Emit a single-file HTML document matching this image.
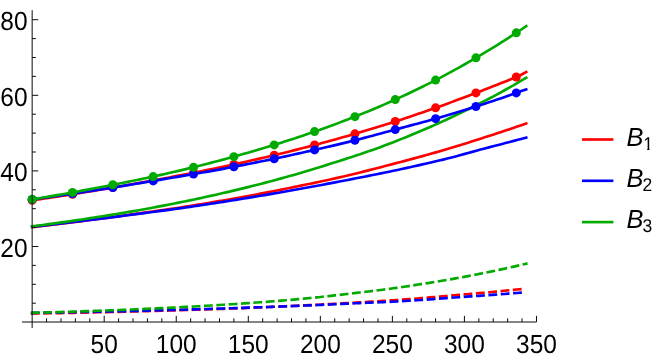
<!DOCTYPE html>
<html><head><meta charset="utf-8"><title>Plot</title>
<style>
html,body{margin:0;padding:0;background:#ffffff;}
body{width:664px;height:361px;overflow:hidden;font-family:"Liberation Sans",sans-serif;}
svg{display:block;will-change:transform;}
</style></head><body>
<svg width="664" height="361" viewBox="0 0 664 361">
<rect x="0" y="0" width="664" height="361" fill="#ffffff"/>
<g font-family="Liberation Sans, sans-serif" font-size="26.2" fill="#000" text-rendering="geometricPrecision" opacity="0.999">
<text transform="translate(104.19,352.8) scale(0.935,1)" text-anchor="middle">50</text>
<text transform="translate(176.24,352.8) scale(0.935,1)" text-anchor="middle">100</text>
<text transform="translate(248.29,352.8) scale(0.935,1)" text-anchor="middle">150</text>
<text transform="translate(320.33,352.8) scale(0.935,1)" text-anchor="middle">200</text>
<text transform="translate(392.38,352.8) scale(0.935,1)" text-anchor="middle">250</text>
<text transform="translate(464.42,352.8) scale(0.935,1)" text-anchor="middle">300</text>
<text transform="translate(536.47,352.8) scale(0.935,1)" text-anchor="middle">350</text>
<text transform="translate(27.6,257.00) scale(0.935,1)" text-anchor="end">20</text>
<text transform="translate(27.6,181.40) scale(0.935,1)" text-anchor="end">40</text>
<text transform="translate(27.6,105.80) scale(0.935,1)" text-anchor="end">60</text>
<text transform="translate(27.6,30.20) scale(0.935,1)" text-anchor="end">80</text>
</g>
<g fill="none" stroke-width="2.65" stroke-linecap="square" stroke-linejoin="round">
<path d="M32.15,313.60 L36.29,313.52 L40.43,313.45 L44.57,313.38 L48.71,313.30 L52.86,313.22 L57.00,313.14 L61.14,313.07 L65.28,312.98 L69.42,312.90 L73.56,312.82 L77.70,312.74 L81.84,312.65 L85.98,312.56 L90.13,312.47 L94.27,312.38 L98.41,312.29 L102.55,312.20 L106.69,312.11 L110.83,312.01 L114.97,311.92 L119.11,311.82 L123.25,311.72 L127.39,311.62 L131.54,311.51 L135.68,311.41 L139.82,311.30 L143.96,311.20 L148.10,311.09 L152.24,310.98 L156.38,310.86 L160.52,310.75 L164.66,310.63 L168.81,310.52 L172.95,310.40 L177.09,310.28 L181.23,310.16 L185.37,310.04 L189.51,309.92 L193.65,309.79 L197.79,309.67 L201.93,309.54 L206.08,309.41 L210.22,309.27 L214.36,309.14 L218.50,308.99 L222.64,308.85 L226.78,308.70 L230.92,308.55 L235.06,308.39 L239.20,308.22 L243.34,308.06 L247.49,307.89 L251.63,307.72 L255.77,307.55 L259.91,307.38 L264.05,307.20 L268.19,307.03 L272.33,306.85 L276.47,306.66 L280.61,306.48 L284.76,306.29 L288.90,306.10 L293.04,305.91 L297.18,305.72 L301.32,305.52 L305.46,305.32 L309.60,305.12 L313.74,304.91 L317.88,304.70 L322.03,304.49 L326.17,304.28 L330.31,304.06 L334.45,303.84 L338.59,303.61 L342.73,303.38 L346.87,303.15 L351.01,302.92 L355.15,302.68 L359.29,302.44 L363.44,302.19 L367.58,301.93 L371.72,301.67 L375.86,301.41 L380.00,301.13 L384.14,300.86 L388.28,300.58 L392.42,300.29 L396.56,300.00 L400.71,299.71 L404.85,299.41 L408.99,299.10 L413.13,298.78 L417.27,298.46 L421.41,298.13 L425.55,297.79 L429.69,297.44 L433.83,297.09 L437.98,296.72 L442.12,296.36 L446.26,295.99 L450.40,295.62 L454.54,295.26 L458.68,294.90 L462.82,294.55 L466.96,294.20 L471.10,293.85 L475.24,293.50 L479.39,293.15 L483.53,292.79 L487.67,292.42 L491.81,292.04 L495.95,291.65 L500.09,291.23 L504.23,290.80 L508.37,290.36 L512.51,289.93 L516.66,289.53 L520.80,289.14 L524.94,288.74" stroke="#ff0000" stroke-dasharray="6.189 6.189"/>
<path d="M32.15,312.88 L36.29,312.82 L40.43,312.75 L44.57,312.69 L48.71,312.62 L52.86,312.56 L57.00,312.49 L61.14,312.42 L65.28,312.35 L69.42,312.27 L73.56,312.20 L77.70,312.12 L81.84,312.04 L85.98,311.96 L90.13,311.88 L94.27,311.80 L98.41,311.72 L102.55,311.63 L106.69,311.54 L110.83,311.45 L114.97,311.36 L119.11,311.27 L123.25,311.17 L127.39,311.08 L131.54,310.98 L135.68,310.88 L139.82,310.78 L143.96,310.68 L148.10,310.57 L152.24,310.47 L156.38,310.36 L160.52,310.26 L164.66,310.15 L168.81,310.04 L172.95,309.92 L177.09,309.81 L181.23,309.70 L185.37,309.58 L189.51,309.47 L193.65,309.35 L197.79,309.23 L201.93,309.11 L206.08,308.99 L210.22,308.87 L214.36,308.75 L218.50,308.62 L222.64,308.49 L226.78,308.36 L230.92,308.23 L235.06,308.10 L239.20,307.97 L243.34,307.83 L247.49,307.69 L251.63,307.55 L255.77,307.41 L259.91,307.27 L264.05,307.12 L268.19,306.97 L272.33,306.82 L276.47,306.67 L280.61,306.51 L284.76,306.36 L288.90,306.19 L293.04,306.03 L297.18,305.87 L301.32,305.70 L305.46,305.52 L309.60,305.35 L313.74,305.17 L317.88,304.99 L322.03,304.81 L326.17,304.63 L330.31,304.45 L334.45,304.26 L338.59,304.07 L342.73,303.88 L346.87,303.69 L351.01,303.49 L355.15,303.29 L359.29,303.10 L363.44,302.91 L367.58,302.73 L371.72,302.56 L375.86,302.40 L380.00,302.23 L384.14,302.06 L388.28,301.88 L392.42,301.70 L396.56,301.50 L400.71,301.28 L404.85,301.03 L408.99,300.77 L413.13,300.50 L417.27,300.22 L421.41,299.95 L425.55,299.66 L429.69,299.36 L433.83,299.06 L437.98,298.75 L442.12,298.44 L446.26,298.14 L450.40,297.83 L454.54,297.53 L458.68,297.23 L462.82,296.95 L466.96,296.66 L471.10,296.38 L475.24,296.10 L479.39,295.81 L483.53,295.52 L487.67,295.23 L491.81,294.93 L495.95,294.62 L500.09,294.29 L504.23,293.95 L508.37,293.61 L512.51,293.28 L516.66,292.97 L520.80,292.66 L524.94,292.35" stroke="#0000ff" stroke-dasharray="6.189 6.189"/>
<path d="M32.15,312.80 L36.30,312.69 L40.45,312.58 L44.61,312.46 L48.76,312.34 L52.91,312.22 L57.06,312.10 L61.21,311.98 L65.37,311.85 L69.52,311.72 L73.67,311.59 L77.82,311.46 L81.97,311.32 L86.13,311.18 L90.28,311.04 L94.43,310.90 L98.58,310.75 L102.73,310.60 L106.89,310.45 L111.04,310.29 L115.19,310.13 L119.34,309.97 L123.49,309.81 L127.65,309.64 L131.80,309.47 L135.95,309.30 L140.10,309.12 L144.25,308.94 L148.41,308.75 L152.56,308.57 L156.71,308.38 L160.86,308.18 L165.01,307.98 L169.17,307.78 L173.32,307.57 L177.47,307.36 L181.62,307.15 L185.77,306.93 L189.92,306.71 L194.08,306.49 L198.23,306.26 L202.38,306.03 L206.53,305.79 L210.68,305.55 L214.84,305.30 L218.99,305.05 L223.14,304.79 L227.29,304.53 L231.44,304.26 L235.60,303.99 L239.75,303.71 L243.90,303.43 L248.05,303.14 L252.20,302.85 L256.36,302.55 L260.51,302.24 L264.66,301.93 L268.81,301.61 L272.96,301.29 L277.12,300.95 L281.27,300.62 L285.42,300.27 L289.57,299.92 L293.72,299.56 L297.88,299.19 L302.03,298.82 L306.18,298.43 L310.33,298.04 L314.48,297.63 L318.64,297.21 L322.79,296.76 L326.94,296.31 L331.09,295.84 L335.24,295.36 L339.40,294.88 L343.55,294.39 L347.70,293.91 L351.85,293.42 L356.00,292.94 L360.16,292.46 L364.31,291.97 L368.46,291.48 L372.61,290.97 L376.76,290.46 L380.92,289.94 L385.07,289.41 L389.22,288.87 L393.37,288.31 L397.52,287.74 L401.68,287.16 L405.83,286.52 L409.98,285.86 L414.13,285.19 L418.28,284.53 L422.44,283.89 L426.59,283.24 L430.74,282.58 L434.89,281.91 L439.04,281.23 L443.20,280.53 L447.35,279.82 L451.50,279.10 L455.65,278.37 L459.80,277.62 L463.96,276.86 L468.11,276.08 L472.26,275.29 L476.41,274.48 L480.56,273.66 L484.71,272.82 L488.87,271.97 L493.02,271.11 L497.17,270.24 L501.32,269.35 L505.47,268.44 L509.63,267.52 L513.78,266.59 L517.93,265.63 L522.08,264.66 L526.23,263.67" stroke="#00aa00" stroke-dasharray="6.189 6.189"/>
<path d="M32.15,227.03 L36.30,226.56 L40.45,226.09 L44.61,225.60 L48.76,225.12 L52.91,224.63 L57.06,224.14 L61.21,223.64 L65.37,223.13 L69.52,222.63 L73.67,222.11 L77.82,221.60 L81.97,221.07 L86.13,220.55 L90.28,220.02 L94.43,219.48 L98.58,218.94 L102.73,218.39 L106.89,217.84 L111.04,217.29 L115.19,216.72 L119.34,216.16 L123.49,215.59 L127.65,215.01 L131.80,214.43 L135.95,213.84 L140.10,213.25 L144.25,212.66 L148.41,212.08 L152.56,211.50 L156.71,210.93 L160.86,210.35 L165.01,209.77 L169.17,209.18 L173.32,208.58 L177.47,207.96 L181.62,207.32 L185.77,206.66 L189.92,206.00 L194.08,205.34 L198.23,204.66 L202.38,203.98 L206.53,203.29 L210.68,202.59 L214.84,201.89 L218.99,201.18 L223.14,200.46 L227.29,199.73 L231.44,199.00 L235.60,198.25 L239.75,197.51 L243.90,196.75 L248.05,195.99 L252.20,195.22 L256.36,194.44 L260.51,193.66 L264.66,192.86 L268.81,192.07 L272.96,191.26 L277.12,190.45 L281.27,189.63 L285.42,188.80 L289.57,187.96 L293.72,187.12 L297.88,186.27 L302.03,185.41 L306.18,184.56 L310.33,183.69 L314.48,182.83 L318.64,181.95 L322.79,181.07 L326.94,180.17 L331.09,179.27 L335.24,178.34 L339.40,177.41 L343.55,176.45 L347.70,175.47 L351.85,174.48 L356.00,173.47 L360.16,172.45 L364.31,171.41 L368.46,170.36 L372.61,169.30 L376.76,168.23 L380.92,167.16 L385.07,166.08 L389.22,164.99 L393.37,163.90 L397.52,162.81 L401.68,161.72 L405.83,160.62 L409.98,159.51 L414.13,158.39 L418.28,157.26 L422.44,156.11 L426.59,154.96 L430.74,153.79 L434.89,152.62 L439.04,151.43 L443.20,150.23 L447.35,149.01 L451.50,147.77 L455.65,146.51 L459.80,145.23 L463.96,143.94 L468.11,142.64 L472.26,141.33 L476.41,140.01 L480.56,138.68 L484.71,137.34 L488.87,136.00 L493.02,134.66 L497.17,133.30 L501.32,131.93 L505.47,130.55 L509.63,129.16 L513.78,127.75 L517.93,126.33 L522.08,124.89 L526.23,123.44" stroke="#ff0000"/>
<path d="M32.15,226.75 L36.30,226.28 L40.45,225.81 L44.61,225.33 L48.76,224.85 L52.91,224.37 L57.06,223.89 L61.21,223.41 L65.37,222.92 L69.52,222.43 L73.67,221.94 L77.82,221.44 L81.97,220.94 L86.13,220.44 L90.28,219.94 L94.43,219.43 L98.58,218.92 L102.73,218.41 L106.89,217.89 L111.04,217.37 L115.19,216.85 L119.34,216.32 L123.49,215.79 L127.65,215.26 L131.80,214.72 L135.95,214.18 L140.10,213.63 L144.25,213.09 L148.41,212.54 L152.56,212.01 L156.71,211.47 L160.86,210.92 L165.01,210.38 L169.17,209.82 L173.32,209.26 L177.47,208.68 L181.62,208.09 L185.77,207.49 L189.92,206.89 L194.08,206.28 L198.23,205.66 L202.38,205.04 L206.53,204.42 L210.68,203.79 L214.84,203.15 L218.99,202.51 L223.14,201.86 L227.29,201.21 L231.44,200.55 L235.60,199.88 L239.75,199.21 L243.90,198.54 L248.05,197.86 L252.20,197.17 L256.36,196.48 L260.51,195.79 L264.66,195.09 L268.81,194.38 L272.96,193.67 L277.12,192.95 L281.27,192.23 L285.42,191.50 L289.57,190.77 L293.72,190.03 L297.88,189.29 L302.03,188.54 L306.18,187.78 L310.33,187.02 L314.48,186.25 L318.64,185.48 L322.79,184.70 L326.94,183.91 L331.09,183.12 L335.24,182.33 L339.40,181.53 L343.55,180.73 L347.70,179.93 L351.85,179.12 L356.00,178.32 L360.16,177.52 L364.31,176.71 L368.46,175.89 L372.61,175.07 L376.76,174.24 L380.92,173.40 L385.07,172.55 L389.22,171.69 L393.37,170.81 L397.52,169.93 L401.68,169.02 L405.83,168.11 L409.98,167.19 L414.13,166.27 L418.28,165.34 L422.44,164.40 L426.59,163.46 L430.74,162.50 L434.89,161.54 L439.04,160.58 L443.20,159.59 L447.35,158.56 L451.50,157.50 L455.65,156.41 L459.80,155.29 L463.96,154.15 L468.11,153.01 L472.26,151.87 L476.41,150.72 L480.56,149.59 L484.71,148.48 L488.87,147.39 L493.02,146.33 L497.17,145.26 L501.32,144.18 L505.47,143.09 L509.63,142.00 L513.78,140.89 L517.93,139.78 L522.08,138.66 L526.23,137.53" stroke="#0000ff"/>
<path d="M32.15,226.31 L36.30,225.77 L40.45,225.23 L44.61,224.69 L48.76,224.13 L52.91,223.57 L57.06,223.00 L61.21,222.43 L65.37,221.84 L69.52,221.25 L73.67,220.66 L77.82,220.05 L81.97,219.44 L86.13,218.81 L90.28,218.18 L94.43,217.55 L98.58,216.90 L102.73,216.25 L106.89,215.58 L111.04,214.91 L115.19,214.23 L119.34,213.54 L123.49,212.84 L127.65,212.14 L131.80,211.42 L135.95,210.69 L140.10,209.96 L144.25,209.21 L148.41,208.46 L152.56,207.70 L156.71,206.92 L160.86,206.14 L165.01,205.34 L169.17,204.54 L173.32,203.72 L177.47,202.90 L181.62,202.06 L185.77,201.22 L189.92,200.36 L194.08,199.49 L198.23,198.61 L202.38,197.72 L206.53,196.81 L210.68,195.90 L214.84,194.97 L218.99,194.03 L223.14,193.08 L227.29,192.12 L231.44,191.14 L235.60,190.16 L239.75,189.15 L243.90,188.14 L248.05,187.11 L252.20,186.07 L256.36,185.02 L260.51,183.95 L264.66,182.87 L268.81,181.77 L272.96,180.66 L277.12,179.54 L281.27,178.40 L285.42,177.25 L289.57,176.08 L293.72,174.90 L297.88,173.70 L302.03,172.48 L306.18,171.25 L310.33,170.01 L314.48,168.75 L318.64,167.47 L322.79,166.17 L326.94,164.88 L331.09,163.58 L335.24,162.27 L339.40,160.95 L343.55,159.63 L347.70,158.29 L351.85,156.93 L356.00,155.56 L360.16,154.17 L364.31,152.76 L368.46,151.33 L372.61,149.88 L376.76,148.39 L380.92,146.88 L385.07,145.34 L389.22,143.77 L393.37,142.16 L397.52,140.53 L401.68,138.87 L405.83,137.20 L409.98,135.50 L414.13,133.78 L418.28,132.04 L422.44,130.28 L426.59,128.49 L430.74,126.68 L434.89,124.85 L439.04,122.99 L443.20,121.11 L447.35,119.21 L451.50,117.28 L455.65,115.32 L459.80,113.34 L463.96,111.34 L468.11,109.30 L472.26,107.25 L476.41,105.16 L480.56,103.05 L484.71,100.91 L488.87,98.74 L493.02,96.55 L497.17,94.32 L501.32,92.05 L505.47,89.75 L509.63,87.42 L513.78,85.05 L517.93,82.65 L522.08,80.21 L526.23,77.75" stroke="#00aa00"/>
<path d="M32.15,200.32 L36.30,199.72 L40.45,199.10 L44.61,198.49 L48.76,197.86 L52.91,197.23 L57.06,196.60 L61.21,195.96 L65.37,195.32 L69.52,194.68 L73.67,194.02 L77.82,193.37 L81.97,192.71 L86.13,192.04 L90.28,191.36 L94.43,190.68 L98.58,189.99 L102.73,189.30 L106.89,188.60 L111.04,187.90 L115.19,187.19 L119.34,186.47 L123.49,185.75 L127.65,185.02 L131.80,184.29 L135.95,183.55 L140.10,182.80 L144.25,182.05 L148.41,181.30 L152.56,180.54 L156.71,179.77 L160.86,179.00 L165.01,178.22 L169.17,177.45 L173.32,176.66 L177.47,175.87 L181.62,175.08 L185.77,174.28 L189.92,173.47 L194.08,172.65 L198.23,171.83 L202.38,171.00 L206.53,170.16 L210.68,169.32 L214.84,168.46 L218.99,167.60 L223.14,166.72 L227.29,165.84 L231.44,164.94 L235.60,164.03 L239.75,163.12 L243.90,162.19 L248.05,161.26 L252.20,160.32 L256.36,159.37 L260.51,158.41 L264.66,157.44 L268.81,156.46 L272.96,155.47 L277.12,154.47 L281.27,153.47 L285.42,152.45 L289.57,151.42 L293.72,150.38 L297.88,149.34 L302.03,148.28 L306.18,147.21 L310.33,146.13 L314.48,145.04 L318.64,143.94 L322.79,142.82 L326.94,141.70 L331.09,140.57 L335.24,139.42 L339.40,138.26 L343.55,137.09 L347.70,135.91 L351.85,134.71 L356.00,133.50 L360.16,132.28 L364.31,131.05 L368.46,129.80 L372.61,128.54 L376.76,127.27 L380.92,125.99 L385.07,124.69 L389.22,123.39 L393.37,122.07 L397.52,120.73 L401.68,119.39 L405.83,118.03 L409.98,116.65 L414.13,115.27 L418.28,113.86 L422.44,112.44 L426.59,111.01 L430.74,109.56 L434.89,108.10 L439.04,106.63 L443.20,105.14 L447.35,103.64 L451.50,102.12 L455.65,100.59 L459.80,99.05 L463.96,97.50 L468.11,95.93 L472.26,94.36 L476.41,92.77 L480.56,91.16 L484.71,89.55 L488.87,87.92 L493.02,86.29 L497.17,84.67 L501.32,83.05 L505.47,81.41 L509.63,79.76 L513.78,78.08 L517.93,76.32 L522.08,74.26 L526.23,72.04" stroke="#ff0000"/>
<circle cx="32.15" cy="200.32" r="4.5" fill="#ff0000" stroke="none"/>
<circle cx="72.50" cy="194.21" r="4.5" fill="#ff0000" stroke="none"/>
<circle cx="112.84" cy="187.59" r="4.5" fill="#ff0000" stroke="none"/>
<circle cx="153.19" cy="180.42" r="4.5" fill="#ff0000" stroke="none"/>
<circle cx="193.53" cy="172.76" r="4.5" fill="#ff0000" stroke="none"/>
<circle cx="233.88" cy="164.41" r="4.5" fill="#ff0000" stroke="none"/>
<circle cx="274.22" cy="155.17" r="4.5" fill="#ff0000" stroke="none"/>
<circle cx="314.57" cy="145.02" r="4.5" fill="#ff0000" stroke="none"/>
<circle cx="354.91" cy="133.82" r="4.5" fill="#ff0000" stroke="none"/>
<circle cx="395.26" cy="121.46" r="4.5" fill="#ff0000" stroke="none"/>
<circle cx="435.60" cy="107.85" r="4.5" fill="#ff0000" stroke="none"/>
<circle cx="475.95" cy="92.94" r="4.5" fill="#ff0000" stroke="none"/>
<circle cx="516.29" cy="77.03" r="4.5" fill="#ff0000" stroke="none"/>
<path d="M32.15,199.41 L36.30,198.84 L40.45,198.26 L44.61,197.69 L48.76,197.11 L52.91,196.52 L57.06,195.93 L61.21,195.33 L65.37,194.73 L69.52,194.13 L73.67,193.52 L77.82,192.91 L81.97,192.29 L86.13,191.67 L90.28,191.04 L94.43,190.41 L98.58,189.77 L102.73,189.13 L106.89,188.48 L111.04,187.83 L115.19,187.17 L119.34,186.51 L123.49,185.84 L127.65,185.17 L131.80,184.50 L135.95,183.81 L140.10,183.13 L144.25,182.43 L148.41,181.74 L152.56,181.03 L156.71,180.33 L160.86,179.62 L165.01,178.92 L169.17,178.22 L173.32,177.52 L177.47,176.82 L181.62,176.12 L185.77,175.42 L189.92,174.71 L194.08,174.00 L198.23,173.28 L202.38,172.56 L206.53,171.83 L210.68,171.10 L214.84,170.35 L218.99,169.60 L223.14,168.83 L227.29,168.06 L231.44,167.27 L235.60,166.47 L239.75,165.66 L243.90,164.85 L248.05,164.03 L252.20,163.20 L256.36,162.37 L260.51,161.53 L264.66,160.68 L268.81,159.83 L272.96,158.97 L277.12,158.10 L281.27,157.22 L285.42,156.34 L289.57,155.45 L293.72,154.55 L297.88,153.65 L302.03,152.73 L306.18,151.81 L310.33,150.88 L314.48,149.94 L318.64,149.00 L322.79,148.04 L326.94,147.08 L331.09,146.11 L335.24,145.13 L339.40,144.14 L343.55,143.13 L347.70,142.11 L351.85,141.07 L356.00,140.02 L360.16,138.94 L364.31,137.86 L368.46,136.76 L372.61,135.66 L376.76,134.55 L380.92,133.43 L385.07,132.32 L389.22,131.20 L393.37,130.08 L397.52,128.96 L401.68,127.85 L405.83,126.75 L409.98,125.65 L414.13,124.54 L418.28,123.43 L422.44,122.31 L426.59,121.17 L430.74,120.02 L434.89,118.85 L439.04,117.66 L443.20,116.46 L447.35,115.24 L451.50,114.00 L455.65,112.76 L459.80,111.49 L463.96,110.22 L468.11,108.93 L472.26,107.63 L476.41,106.32 L480.56,105.00 L484.71,103.66 L488.87,102.31 L493.02,100.96 L497.17,99.57 L501.32,98.17 L505.47,96.74 L509.63,95.30 L513.78,93.84 L517.93,92.36 L522.08,90.87 L526.23,89.36" stroke="#0000ff"/>
<circle cx="32.15" cy="199.41" r="4.5" fill="#0000ff" stroke="none"/>
<circle cx="72.50" cy="193.69" r="4.5" fill="#0000ff" stroke="none"/>
<circle cx="112.84" cy="187.55" r="4.5" fill="#0000ff" stroke="none"/>
<circle cx="153.19" cy="180.93" r="4.5" fill="#0000ff" stroke="none"/>
<circle cx="193.53" cy="174.09" r="4.5" fill="#0000ff" stroke="none"/>
<circle cx="233.88" cy="166.80" r="4.5" fill="#0000ff" stroke="none"/>
<circle cx="274.22" cy="158.71" r="4.5" fill="#0000ff" stroke="none"/>
<circle cx="314.57" cy="149.92" r="4.5" fill="#0000ff" stroke="none"/>
<circle cx="354.91" cy="140.30" r="4.5" fill="#0000ff" stroke="none"/>
<circle cx="395.26" cy="129.57" r="4.5" fill="#0000ff" stroke="none"/>
<circle cx="435.60" cy="118.65" r="4.5" fill="#0000ff" stroke="none"/>
<circle cx="475.95" cy="106.47" r="4.5" fill="#0000ff" stroke="none"/>
<circle cx="516.29" cy="92.94" r="4.5" fill="#0000ff" stroke="none"/>
<path d="M32.15,199.36 L36.30,198.68 L40.45,198.00 L44.61,197.31 L48.76,196.61 L52.91,195.90 L57.06,195.18 L61.21,194.45 L65.37,193.72 L69.52,192.97 L73.67,192.22 L77.82,191.45 L81.97,190.67 L86.13,189.87 L90.28,189.08 L94.43,188.28 L98.58,187.50 L102.73,186.72 L106.89,185.94 L111.04,185.15 L115.19,184.35 L119.34,183.54 L123.49,182.73 L127.65,181.91 L131.80,181.07 L135.95,180.23 L140.10,179.37 L144.25,178.51 L148.41,177.63 L152.56,176.73 L156.71,175.82 L160.86,174.90 L165.01,173.97 L169.17,173.03 L173.32,172.07 L177.47,171.10 L181.62,170.12 L185.77,169.13 L189.92,168.12 L194.08,167.10 L198.23,166.07 L202.38,165.02 L206.53,163.96 L210.68,162.89 L214.84,161.81 L218.99,160.71 L223.14,159.60 L227.29,158.48 L231.44,157.34 L235.60,156.19 L239.75,155.03 L243.90,153.85 L248.05,152.67 L252.20,151.47 L256.36,150.26 L260.51,149.03 L264.66,147.79 L268.81,146.54 L272.96,145.27 L277.12,143.98 L281.27,142.68 L285.42,141.36 L289.57,140.03 L293.72,138.68 L297.88,137.31 L302.03,135.92 L306.18,134.52 L310.33,133.09 L314.48,131.65 L318.64,130.19 L322.79,128.71 L326.94,127.21 L331.09,125.70 L335.24,124.17 L339.40,122.62 L343.55,121.05 L347.70,119.46 L351.85,117.84 L356.00,116.21 L360.16,114.55 L364.31,112.88 L368.46,111.17 L372.61,109.45 L376.76,107.69 L380.92,105.92 L385.07,104.11 L389.22,102.28 L393.37,100.42 L397.52,98.54 L401.68,96.63 L405.83,94.69 L409.98,92.73 L414.13,90.75 L418.28,88.74 L422.44,86.71 L426.59,84.65 L430.74,82.57 L434.89,80.46 L439.04,78.31 L443.20,76.14 L447.35,73.92 L451.50,71.67 L455.65,69.39 L459.80,67.08 L463.96,64.74 L468.11,62.38 L472.26,59.98 L476.41,57.57 L480.56,55.12 L484.71,52.65 L488.87,50.15 L493.02,47.61 L497.17,45.05 L501.32,42.45 L505.47,39.83 L509.63,37.17 L513.78,34.47 L517.93,31.75 L522.08,28.99 L526.23,26.20" stroke="#00aa00"/>
<circle cx="32.15" cy="199.36" r="4.5" fill="#00aa00" stroke="none"/>
<circle cx="72.50" cy="192.44" r="4.5" fill="#00aa00" stroke="none"/>
<circle cx="112.84" cy="184.80" r="4.5" fill="#00aa00" stroke="none"/>
<circle cx="153.19" cy="176.60" r="4.5" fill="#00aa00" stroke="none"/>
<circle cx="193.53" cy="167.23" r="4.5" fill="#00aa00" stroke="none"/>
<circle cx="233.88" cy="156.67" r="4.5" fill="#00aa00" stroke="none"/>
<circle cx="274.22" cy="144.88" r="4.5" fill="#00aa00" stroke="none"/>
<circle cx="314.57" cy="131.62" r="4.5" fill="#00aa00" stroke="none"/>
<circle cx="354.91" cy="116.64" r="4.5" fill="#00aa00" stroke="none"/>
<circle cx="395.26" cy="99.57" r="4.5" fill="#00aa00" stroke="none"/>
<circle cx="435.60" cy="80.09" r="4.5" fill="#00aa00" stroke="none"/>
<circle cx="475.95" cy="57.84" r="4.5" fill="#00aa00" stroke="none"/>
<circle cx="516.29" cy="32.83" r="4.5" fill="#00aa00" stroke="none"/>
</g>
<g stroke="#0a0a0a" stroke-width="1" fill="none" shape-rendering="auto">
<line x1="22" y1="322.00" x2="536.47" y2="322.00"/>
<line x1="32.15" y1="10.2" x2="32.15" y2="328.0"/>
<line x1="46.56" y1="322.00" x2="46.56" y2="318.30"/>
<line x1="60.97" y1="322.00" x2="60.97" y2="318.30"/>
<line x1="75.38" y1="322.00" x2="75.38" y2="318.30"/>
<line x1="89.79" y1="322.00" x2="89.79" y2="318.30"/>
<line x1="104.19" y1="322.00" x2="104.19" y2="315.85"/>
<line x1="118.60" y1="322.00" x2="118.60" y2="318.30"/>
<line x1="133.01" y1="322.00" x2="133.01" y2="318.30"/>
<line x1="147.42" y1="322.00" x2="147.42" y2="318.30"/>
<line x1="161.83" y1="322.00" x2="161.83" y2="318.30"/>
<line x1="176.24" y1="322.00" x2="176.24" y2="315.85"/>
<line x1="190.65" y1="322.00" x2="190.65" y2="318.30"/>
<line x1="205.06" y1="322.00" x2="205.06" y2="318.30"/>
<line x1="219.47" y1="322.00" x2="219.47" y2="318.30"/>
<line x1="233.88" y1="322.00" x2="233.88" y2="318.30"/>
<line x1="248.29" y1="322.00" x2="248.29" y2="315.85"/>
<line x1="262.69" y1="322.00" x2="262.69" y2="318.30"/>
<line x1="277.10" y1="322.00" x2="277.10" y2="318.30"/>
<line x1="291.51" y1="322.00" x2="291.51" y2="318.30"/>
<line x1="305.92" y1="322.00" x2="305.92" y2="318.30"/>
<line x1="320.33" y1="322.00" x2="320.33" y2="315.85"/>
<line x1="334.74" y1="322.00" x2="334.74" y2="318.30"/>
<line x1="349.15" y1="322.00" x2="349.15" y2="318.30"/>
<line x1="363.56" y1="322.00" x2="363.56" y2="318.30"/>
<line x1="377.97" y1="322.00" x2="377.97" y2="318.30"/>
<line x1="392.38" y1="322.00" x2="392.38" y2="315.85"/>
<line x1="406.78" y1="322.00" x2="406.78" y2="318.30"/>
<line x1="421.19" y1="322.00" x2="421.19" y2="318.30"/>
<line x1="435.60" y1="322.00" x2="435.60" y2="318.30"/>
<line x1="450.01" y1="322.00" x2="450.01" y2="318.30"/>
<line x1="464.42" y1="322.00" x2="464.42" y2="315.85"/>
<line x1="478.83" y1="322.00" x2="478.83" y2="318.30"/>
<line x1="493.24" y1="322.00" x2="493.24" y2="318.30"/>
<line x1="507.65" y1="322.00" x2="507.65" y2="318.30"/>
<line x1="522.06" y1="322.00" x2="522.06" y2="318.30"/>
<line x1="536.47" y1="322.00" x2="536.47" y2="315.85"/>
<line x1="32.15" y1="303.20" x2="35.85" y2="303.20"/>
<line x1="32.15" y1="284.30" x2="35.85" y2="284.30"/>
<line x1="32.15" y1="265.40" x2="35.85" y2="265.40"/>
<line x1="32.15" y1="246.50" x2="38.30" y2="246.50"/>
<line x1="32.15" y1="227.60" x2="35.85" y2="227.60"/>
<line x1="32.15" y1="208.70" x2="35.85" y2="208.70"/>
<line x1="32.15" y1="189.80" x2="35.85" y2="189.80"/>
<line x1="32.15" y1="170.90" x2="38.30" y2="170.90"/>
<line x1="32.15" y1="152.00" x2="35.85" y2="152.00"/>
<line x1="32.15" y1="133.10" x2="35.85" y2="133.10"/>
<line x1="32.15" y1="114.20" x2="35.85" y2="114.20"/>
<line x1="32.15" y1="95.30" x2="38.30" y2="95.30"/>
<line x1="32.15" y1="76.40" x2="35.85" y2="76.40"/>
<line x1="32.15" y1="57.50" x2="35.85" y2="57.50"/>
<line x1="32.15" y1="38.60" x2="35.85" y2="38.60"/>
<line x1="32.15" y1="19.70" x2="38.30" y2="19.70"/>
</g>
<g stroke-width="2.65">
<line x1="582.0" y1="139.50" x2="613.4" y2="139.50" stroke="#ff0000"/>
<line x1="582.0" y1="180.80" x2="613.4" y2="180.80" stroke="#0000ff"/>
<line x1="582.0" y1="222.10" x2="613.4" y2="222.10" stroke="#00aa00"/>
</g>
<g font-family="Liberation Sans, sans-serif" fill="#000" text-rendering="geometricPrecision" opacity="0.999">
<text transform="translate(626.4,145.55) scale(0.972,1)" font-size="26.1" font-style="italic">B</text>
<clipPath id="c1"><rect x="640" y="130" width="18" height="18"/><rect x="647.2" y="130" width="2.3" height="22"/></clipPath><g clip-path="url(#c1)"><text transform="translate(643.3,149.50) scale(0.95,1)" font-size="18.4">1</text></g>
<text transform="translate(626.4,186.85) scale(0.972,1)" font-size="26.1" font-style="italic">B</text>
<text transform="translate(642.6,190.80) scale(0.95,1)" font-size="18.4">2</text>
<text transform="translate(626.4,228.15) scale(0.972,1)" font-size="26.1" font-style="italic">B</text>
<text transform="translate(642.6,232.10) scale(0.95,1)" font-size="18.4">3</text>
</g>
</svg>
</body></html>
